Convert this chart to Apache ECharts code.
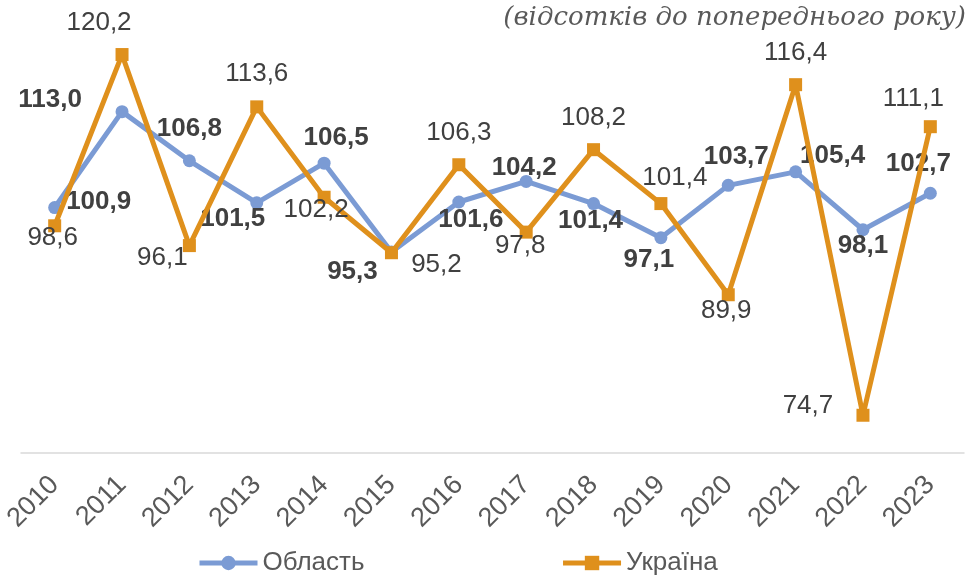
<!DOCTYPE html>
<html><head><meta charset="utf-8">
<script src="https://cdn.jsdelivr.net/npm/echarts@6/dist/echarts.min.js"></script>
<style>html,body{margin:0;padding:0;background:#fff}#c{width:976px;height:575px}</style>
</head><body><div id="c"></div>
<script>
const years = ['2010','2011','2012','2013','2014','2015','2016','2017','2018','2019','2020','2021','2022','2023'];
const oblast = [100.9,113.0,106.8,101.5,106.5,95.3,101.6,104.2,101.4,97.1,103.7,105.4,98.1,102.7];
const ukraine = [98.6,120.2,96.1,113.6,102.2,95.2,106.3,97.8,108.2,101.4,89.9,116.4,74.7,111.1];
const seriesNames = ['Область','Україна'];
const subtitle = '(відсотків до попереднього року)';

// label placement (layout only)
const oblastLabelOffsets = [[44,-6],[-72,-12],[0,-32],[-24,16],[12,-25],[-39,20],[12,18],[-2,-14],[-3,17],[-12,22],[8,-29],[37,-16],[0,16],[-12,-29]];
const ukraineLabelOffsets = [[-2,12],[-23,-32],[-27,12],[0,-33],[-8,13],[45,12],[0,-32],[-6,14],[0,-32],[14,-26],[-2,16],[0,-32],[-55,-9],[-17,-28]];

const FONT = 'Liberation Sans, Arial, sans-serif';
const fmt = p => p.value.toFixed(1).replace('.', ',');
function withOffsets(vals, offs) {
  return vals.map((v, i) => ({ value: v, label: { offset: offs[i] } }));
}
const chart = echarts.init(document.getElementById('c'), null, { renderer: 'canvas' });
chart.setOption({
  animation: false,
  backgroundColor: '#fff',
  title: {
    text: subtitle, right: 5, top: 0,
    textStyle: { fontFamily: 'DejaVu Serif', fontStyle: 'italic', fontWeight: 'normal', fontSize: 26, color: '#595959' }
  },
  grid: { left: 21, right: 12, top: 16.5, bottom: 122.5, containLabel: false },
  legend: {
    bottom: -6, left: 192, itemGap: 196, itemWidth: 58, itemHeight: 18,
    lineStyle: { width: 5 },
    textStyle: { fontFamily: FONT, fontSize: 26, color: '#595959' },
    data: seriesNames
  },
  xAxis: {
    type: 'category', data: years, boundaryGap: true,
    axisLine: { lineStyle: { color: '#d9d9d9', width: 1.5 } },
    axisTick: { show: false },
    axisLabel: { rotate: 45, fontFamily: FONT, fontSize: 27, color: '#595959', margin: 28, interval: 0 }
  },
  yAxis: { type: 'value', min: 70, max: 125, show: false, splitLine: { show: false } },
  series: [
    {
      name: seriesNames[0], type: 'line', data: withOffsets(oblast, oblastLabelOffsets),
      symbol: 'circle', symbolSize: 13,
      lineStyle: { color: '#7B9BD4', width: 5 }, itemStyle: { color: '#7B9BD4' },
      label: { show: true, position: 'inside', formatter: fmt, fontFamily: FONT, fontSize: 26, fontWeight: 'bold', color: '#404040' },
      z: 2
    },
    {
      name: seriesNames[1], type: 'line', data: withOffsets(ukraine, ukraineLabelOffsets),
      symbol: 'rect', symbolSize: 13,
      lineStyle: { color: '#DF901C', width: 5 }, itemStyle: { color: '#DF901C' },
      label: { show: true, position: 'inside', formatter: fmt, fontFamily: FONT, fontSize: 26, color: '#404040' },
      z: 3
    }
  ]
});
</script></body></html>
